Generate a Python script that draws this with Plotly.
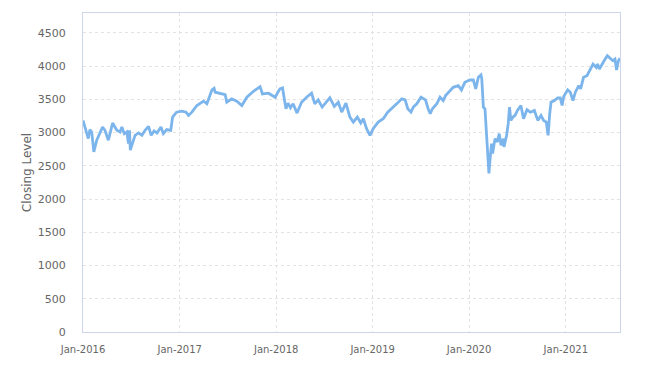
import plotly.graph_objects as go

dates = [
    "2016-01-01", "2016-01-08", "2016-01-12", "2016-01-21", "2016-01-27", "2016-02-03",
    "2016-02-11", "2016-02-22", "2016-03-05", "2016-03-15", "2016-03-24", "2016-04-06",
    "2016-04-22", "2016-05-01", "2016-05-08", "2016-05-20", "2016-05-27", "2016-06-05",
    "2016-06-15", "2016-06-21", "2016-06-25", "2016-06-28", "2016-07-04", "2016-07-16",
    "2016-07-29", "2016-08-11", "2016-08-23", "2016-09-05", "2016-09-15", "2016-09-26",
    "2016-10-07", "2016-10-22", "2016-10-31", "2016-11-13", "2016-11-28", "2016-12-05",
    "2016-12-20", "2017-01-09", "2017-01-25", "2017-02-03", "2017-02-16", "2017-03-07",
    "2017-04-01", "2017-04-14", "2017-05-03", "2017-05-11", "2017-05-15", "2017-06-22",
    "2017-06-28", "2017-07-17", "2017-08-05", "2017-08-24", "2017-09-12", "2017-10-07",
    "2017-11-01", "2017-11-10", "2017-12-03", "2017-12-28", "2018-01-15", "2018-01-25",
    "2018-02-07", "2018-02-15", "2018-02-24", "2018-03-06", "2018-03-21", "2018-04-07",
    "2018-04-26", "2018-05-15", "2018-05-27", "2018-06-09", "2018-06-24", "2018-07-11",
    "2018-07-23", "2018-08-09", "2018-08-24", "2018-09-06", "2018-09-22", "2018-10-07",
    "2018-10-20", "2018-11-04", "2018-11-17", "2018-11-27", "2018-12-09", "2018-12-22",
    "2019-01-03", "2019-01-22", "2019-02-10", "2019-02-27", "2019-03-14", "2019-03-27",
    "2019-04-08", "2019-04-21", "2019-05-04", "2019-05-14", "2019-05-26", "2019-06-04",
    "2019-06-17", "2019-07-03", "2019-07-20", "2019-07-30", "2019-08-07", "2019-08-15",
    "2019-09-01", "2019-09-13", "2019-09-25", "2019-10-04", "2019-10-20", "2019-11-02",
    "2019-11-21", "2019-12-03", "2019-12-16", "2020-01-04", "2020-01-17", "2020-01-26",
    "2020-02-05", "2020-02-15", "2020-02-18", "2020-02-24", "2020-03-01", "2020-03-07",
    "2020-03-12", "2020-03-16", "2020-03-20", "2020-03-26", "2020-03-30", "2020-04-08",
    "2020-04-17", "2020-04-24", "2020-05-01", "2020-05-10", "2020-05-12", "2020-05-22",
    "2020-05-28", "2020-06-02", "2020-06-07", "2020-06-15", "2020-06-23", "2020-07-02",
    "2020-07-15", "2020-07-25", "2020-08-07", "2020-08-20", "2020-09-04", "2020-09-17",
    "2020-09-29", "2020-10-09", "2020-10-19", "2020-10-26", "2020-11-01", "2020-11-06",
    "2020-11-19", "2020-12-01", "2020-12-11", "2020-12-18", "2020-12-24", "2021-01-08",
    "2021-01-18", "2021-01-28", "2021-02-06", "2021-02-19", "2021-02-26", "2021-03-09",
    "2021-03-22", "2021-04-03", "2021-04-14", "2021-04-26", "2021-05-01", "2021-05-08",
    "2021-05-17", "2021-05-26", "2021-06-07", "2021-06-17", "2021-06-28", "2021-07-06",
    "2021-07-12", "2021-07-19", "2021-07-25",
]

closing = [
    3184, 3060, 3035, 2911, 3045, 3010,
    2710, 2885, 2985, 3084, 3035, 2885,
    3144, 3084, 3035, 3010, 3084, 2985,
    3010, 2836, 3035, 2736, 2811, 2960,
    2995, 2960, 3035, 3094, 2960, 3025,
    2995, 3084, 2985, 3045, 3035, 3234,
    3308, 3323, 3308, 3259, 3308, 3408,
    3473, 3434, 3643, 3667, 3608, 3573,
    3458, 3508, 3473, 3408, 3533, 3622,
    3692, 3583, 3593, 3533, 3658, 3673,
    3359, 3443, 3374, 3434, 3294, 3458,
    3533, 3593, 3434, 3493, 3384, 3458,
    3523, 3394, 3458, 3308, 3443, 3234,
    3159, 3234, 3144, 3209, 3060, 2960,
    3060, 3159, 3209, 3308, 3359, 3408,
    3458, 3508, 3493, 3359, 3308, 3384,
    3434, 3533, 3493, 3359, 3284, 3359,
    3434, 3533, 3483, 3558, 3633, 3682,
    3707, 3643, 3757, 3792, 3792, 3658,
    3832, 3867, 3807, 3384, 3359, 2885,
    2537, 2388, 2586, 2836, 2686, 2910,
    2860, 2985, 2811, 2910, 2786, 2960,
    3135, 3384, 3184, 3234, 3259, 3334,
    3408, 3209, 3344, 3308, 3334, 3184,
    3259, 3184, 3159, 2960, 3284, 3458,
    3483, 3523, 3523, 3408, 3543, 3643,
    3608, 3483, 3608, 3707, 3658, 3832,
    3857, 3957, 4032, 3982, 4032, 3957,
    4032, 4082, 4157, 4121, 4082, 4107,
    3942, 4082, 4121,
]

y_ticks = [0, 500, 1000, 1500, 2000, 2500, 3000, 3500, 4000, 4500]
x_ticks = ["2016-01-01", "2017-01-01", "2018-01-01", "2019-01-01", "2020-01-01", "2021-01-01"]
y_title = "Closing Level"

fig = go.Figure()
fig.add_trace(go.Scatter(
    x=dates, y=closing, mode="lines",
    line=dict(color="#7cb5ec", width=2.8),
    showlegend=False,
))

axis_font = dict(family="DejaVu Sans", color="#666666")
fig.update_layout(
    width=662, height=367,
    margin=dict(l=83, r=42, t=12, b=34),
    paper_bgcolor="white", plot_bgcolor="white",
    font=dict(family="DejaVu Sans", color="#666666"),
    xaxis=dict(
        type="date",
        range=[dates[0], dates[-1]],
        tickvals=x_ticks,
        tickformat="%b-%Y",
        tickfont=dict(size=10, **axis_font),
        showgrid=True, gridcolor="#e3e3e3", griddash="3px,3px", gridwidth=1,
        showline=True, linecolor="#ccd6eb", linewidth=1, mirror=True,
        ticks="", ticklabelstandoff=8,
        zeroline=False,
    ),
    yaxis=dict(
        range=[0, 4800],
        tickvals=y_ticks,
        tickfont=dict(size=11, **axis_font),
        showgrid=True, gridcolor="#e3e3e3", griddash="3px,3px", gridwidth=1,
        showline=True, linecolor="#ccd6eb", linewidth=1, mirror=True,
        ticks="", ticklabelstandoff=14,
        zeroline=False,
        title=dict(text=y_title, font=dict(size=12, **axis_font), standoff=3),
    ),
)

fig.write_html("out.html")
